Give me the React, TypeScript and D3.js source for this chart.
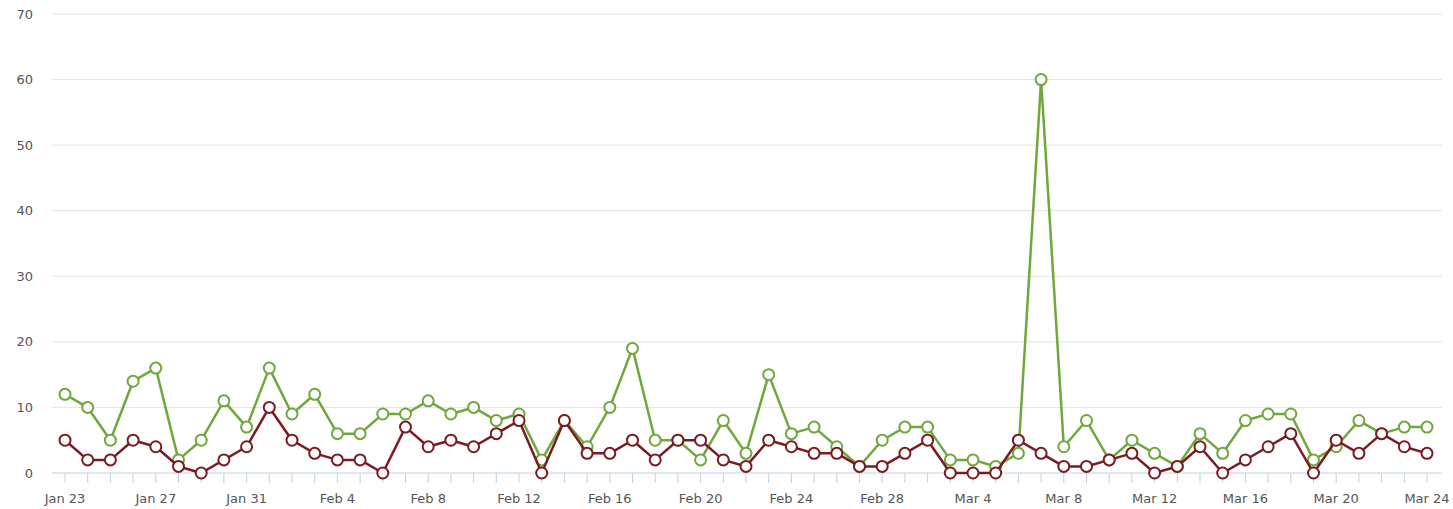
import React from "react";
import * as d3 from "d3";

const startDate = new Date(2011, 0, 23);
const greenValues = [
  12, 10, 5, 14, 16, 2, 5, 11, 7,
  16, 9, 12, 6, 6, 9, 9, 11, 9, 10, 8, 9, 2, 8, 4, 10, 19, 5, 5, 2, 8, 3, 15, 6, 7, 4, 1, 5,
  7, 7, 2, 2, 1, 3, 60, 4, 8, 2, 5, 3, 1, 6, 3, 8, 9, 9, 2, 4, 8, 6, 7, 7,
];
const redValues = [
  5, 2, 2, 5, 4, 1, 0, 2, 4,
  10, 5, 3, 2, 2, 0, 7, 4, 5, 4, 6, 8, 0, 8, 3, 3, 5, 2, 5, 5, 2, 1, 5, 4, 3, 3, 1, 1,
  3, 5, 0, 0, 0, 5, 3, 1, 1, 2, 3, 0, 1, 4, 0, 2, 4, 6, 0, 5, 3, 6, 4, 3,
];
const yTicks = [0, 10, 20, 30, 40, 50, 60, 70];

const dates = greenValues.map((_, i) => d3.timeDay.offset(startDate, i));
const fmt = d3.timeFormat("%b %-d");

export default function App() {
  const W = 1453, H = 509;
  const plotLeft = 52, plotRight = 1442;
  const x = d3.scaleTime().domain([dates[0], dates[dates.length - 1]]).range([65, 1427]);
  const y = d3.scaleLinear().domain([0, 70]).range([473, 14]);
  const line = d3.line<number>().x((_, i) => x(dates[i])).y((v) => y(v));
  const labelDates = dates.filter((_, i) => i % 4 === 0);
  const font = "'DejaVu Sans', 'Lucida Grande', sans-serif";
  const series = [
    { values: greenValues, color: "#6fa83c" },
    { values: redValues, color: "#7a1b22" },
  ];
  return (
    <svg width={W} height={H} style={{ position: "absolute", left: 0, top: 0 }}>
      <rect width={W} height={H} fill="#fff" />
      {yTicks.map((t) => (
        <g key={t}>
          {t > 0 && (
            <line x1={plotLeft} x2={plotRight} y1={y(t)} y2={y(t)} stroke="#e4e4e4" strokeWidth={1} />
          )}
          <text x={33} y={y(t) + 4.5} textAnchor="end" fontSize={13} fill="#555" fontFamily={font}>
            {t}
          </text>
        </g>
      ))}
      <line x1={plotLeft} x2={plotRight} y1={y(0)} y2={y(0)} stroke="#c0d0e0" strokeWidth={1} />
      {dates.map((d, i) => (
        <line key={i} x1={x(d)} x2={x(d)} y1={y(0)} y2={y(0) + 10} stroke="#c0d0e0" strokeWidth={1} />
      ))}
      {labelDates.map((d, i) => (
        <text key={i} x={x(d)} y={503} textAnchor="middle" fontSize={13} fill="#555" fontFamily={font}>
          {fmt(d)}
        </text>
      ))}
      {series.map((s, si) => (
        <g key={si}>
          <path d={line(s.values) || ""} fill="none" stroke={s.color} strokeWidth={2.5} strokeLinejoin="round" />
          {s.values.map((v, i) => (
            <circle key={i} cx={x(dates[i])} cy={y(v)} r={5.5} fill="#fff" stroke={s.color} strokeWidth={2} />
          ))}
        </g>
      ))}
    </svg>
  );
}
